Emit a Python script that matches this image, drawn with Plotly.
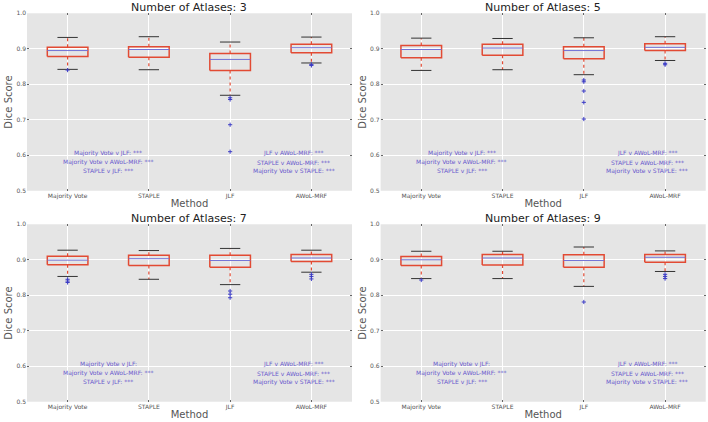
#!/usr/bin/env python3
"""Dice score boxplots per fusion method, one panel per number of atlases."""

import plotly.graph_objects as go

ATLASES = [3, 5, 7, 9]
METHODS = ["Majority Vote", "STAPLE", "JLF", "AWoL-MRF"]

# box statistics, one row per panel (3, 5, 7, 9 atlases), one column per method
WHISK_HI = [
    [0.932, 0.934, 0.919, 0.933],
    [0.930, 0.929, 0.931, 0.934],
    [0.927, 0.926, 0.932, 0.927],
    [0.924, 0.924, 0.936, 0.925],
]
Q3 = [
    [0.904, 0.906, 0.887, 0.913],
    [0.909, 0.913, 0.906, 0.914],
    [0.910, 0.913, 0.913, 0.915],
    [0.909, 0.915, 0.914, 0.915],
]
MEDIAN = [
    [0.895, 0.898, 0.870, 0.903],
    [0.898, 0.902, 0.895, 0.904],
    [0.899, 0.903, 0.898, 0.905],
    [0.900, 0.905, 0.898, 0.907],
]
Q1 = [
    [0.878, 0.876, 0.839, 0.889],
    [0.875, 0.882, 0.872, 0.895],
    [0.886, 0.884, 0.879, 0.895],
    [0.884, 0.885, 0.879, 0.893],
]
WHISK_LO = [
    [0.842, 0.841, 0.769, 0.860],
    [0.839, 0.841, 0.827, 0.867],
    [0.853, 0.845, 0.830, 0.865],
    [0.847, 0.847, 0.825, 0.867],
]
OUTLIERS = [
    [[0.840], [], [0.762, 0.757, 0.686, 0.610], [0.856, 0.853]],
    [[], [], [0.812, 0.807, 0.781, 0.749, 0.702], [0.859, 0.855]],
    [[0.845, 0.840, 0.836], [], [0.812, 0.803, 0.793], [0.859, 0.853, 0.846]],
    [[0.843], [], [0.781], [0.859, 0.853, 0.847]],
]

SIG_LEFT = [
    ["Majority Vote v JLF: ***", "Majority Vote v AWoL-MRF: ***", "STAPLE v JLF: ***"],
    ["Majority Vote v JLF: ***", "Majority Vote v AWoL-MRF: ***", "STAPLE v JLF: ***"],
    ["Majority Vote v JLF:", "Majority Vote v AWoL-MRF: ***", "STAPLE v JLF: ***"],
    ["Majority Vote v JLF:", "Majority Vote v AWoL-MRF: ***", "STAPLE v JLF: ***"],
]
SIG_RIGHT = [
    ["JLF v AWoL-MRF: ***", "STAPLE v AWoL-MRF: ***", "Majority Vote v STAPLE: ***"],
    ["JLF v AWoL-MRF: ***", "STAPLE v AWoL-MRF: ***", "Majority Vote v STAPLE: ***"],
    ["JLF v AWoL-MRF: ***", "STAPLE v AWoL-MRF: ***", "Majority Vote v STAPLE: ***"],
    ["JLF v AWoL-MRF: ***", "STAPLE v AWoL-MRF: ***", "Majority Vote v STAPLE: ***"],
]

RED = "#E24A33"
BLUE_MED = "#7272d6"
BLUE_FLY = "#3b3bc4"
TEXT_PURPLE = "#6a5acd"
FONT = "DejaVu Sans"

X_DOMAINS = [[0.0381, 0.4972], [0.5376, 0.9968]]
Y_DOMAINS = [[0.548, 0.9685], [0.0481, 0.4685]]


def main() -> None:
    fig = go.Figure()
    annotations = []
    layout = {}
    for p, n in enumerate(ATLASES):
        row, col = divmod(p, 2)
        suffix = "" if p == 0 else str(p + 1)
        xa, ya = f"x{suffix}", f"y{suffix}"
        pos = [i + 1 for i in range(len(METHODS))]

        wx, wy, cx, cy, bx, by, mx, my, fx, fy = ([] for _ in range(10))
        for i, x in enumerate(pos):
            wx += [x, x, None, x, x, None]
            wy += [Q3[p][i], WHISK_HI[p][i], None, Q1[p][i], WHISK_LO[p][i], None]
            cx += [x - 0.125, x + 0.125, None, x - 0.125, x + 0.125, None]
            cy += [WHISK_HI[p][i]] * 2 + [None] + [WHISK_LO[p][i]] * 2 + [None]
            bx += [x - 0.25, x + 0.25, x + 0.25, x - 0.25, x - 0.25, None]
            by += [Q1[p][i], Q1[p][i], Q3[p][i], Q3[p][i], Q1[p][i], None]
            mx += [x - 0.25, x + 0.25, None]
            my += [MEDIAN[p][i], MEDIAN[p][i], None]
            fx += [x] * len(OUTLIERS[p][i])
            fy += OUTLIERS[p][i]

        common = {"xaxis": xa, "yaxis": ya, "showlegend": False, "hoverinfo": "skip"}
        fig.add_trace(go.Scatter(x=wx, y=wy, mode="lines",
                                 line={"color": RED, "width": 1.2, "dash": "3px,3px"}, **common))
        fig.add_trace(go.Scatter(x=cx, y=cy, mode="lines",
                                 line={"color": "#333333", "width": 1}, **common))
        fig.add_trace(go.Scatter(x=bx, y=by, mode="lines",
                                 line={"color": RED, "width": 1.5}, **common))
        fig.add_trace(go.Scatter(x=mx, y=my, mode="lines",
                                 line={"color": BLUE_MED, "width": 1}, **common))
        fig.add_trace(go.Scatter(x=fx, y=fy, mode="markers",
                                 marker={"symbol": "cross-thin", "size": 3,
                                         "line": {"color": BLUE_FLY, "width": 1}},
                                 **common))

        layout[f"xaxis{suffix}"] = {
            "domain": X_DOMAINS[col],
            "anchor": ya,
            "automargin": False,
            "range": [0.5, 4.5],
            "tickvals": pos,
            "ticktext": METHODS,
            "tickfont": {"size": 6, "color": "#555555"},
            "showgrid": True,
            "gridcolor": "white",
            "zeroline": False,
            "ticks": "inside",
            "ticklen": 2,
            "tickcolor": "#666666",
            "mirror": "ticks",
            "title": {"text": "Method", "font": {"size": 10, "color": "#555555"},
                      "standoff": 1},
        }
        layout[f"yaxis{suffix}"] = {
            "domain": Y_DOMAINS[row],
            "anchor": xa,
            "automargin": False,
            "range": [0.5, 1.0],
            "dtick": 0.1,
            "tickformat": ".1f",
            "tickfont": {"size": 6, "color": "#555555"},
            "showgrid": True,
            "gridcolor": "white",
            "zeroline": False,
            "ticks": "inside",
            "ticklen": 2,
            "tickcolor": "#666666",
            "mirror": "ticks",
            "title": {"text": "Dice Score", "font": {"size": 10, "color": "#555555"},
                      "standoff": 1},
        }

        annotations.append({
            "text": f"Number of Atlases: {n}",
            "xref": "paper", "yref": "paper",
            "x": sum(X_DOMAINS[col]) / 2, "y": Y_DOMAINS[row][1],
            "xanchor": "center", "yanchor": "bottom", "yshift": -3,
            "showarrow": False,
            "font": {"size": 11, "color": "#222222"},
        })
        for k, ty in enumerate([0.605, 0.58, 0.555]):
            for tx, lines in [(1.5, SIG_LEFT[p]), (3.78, SIG_RIGHT[p])]:
                annotations.append({
                    "text": lines[k], "xref": xa, "yref": ya,
                    "x": tx, "y": ty, "xanchor": "center", "yanchor": "middle",
                    "showarrow": False,
                    "font": {"size": 6, "color": TEXT_PURPLE},
                })

    fig.update_layout(
        width=708,
        height=422,
        margin={"l": 0, "r": 0, "t": 0, "b": 0},
        paper_bgcolor="white",
        plot_bgcolor="#E5E5E5",
        font={"family": FONT},
        annotations=annotations,
        **layout,
    )
    # the page body has a default 8px margin; drop it so the figure fills the window
    fig.write_html(
        "out.html",
        config={"displayModeBar": False},
        post_script="document.body.style.margin = '0';",
    )


if __name__ == "__main__":
    main()
